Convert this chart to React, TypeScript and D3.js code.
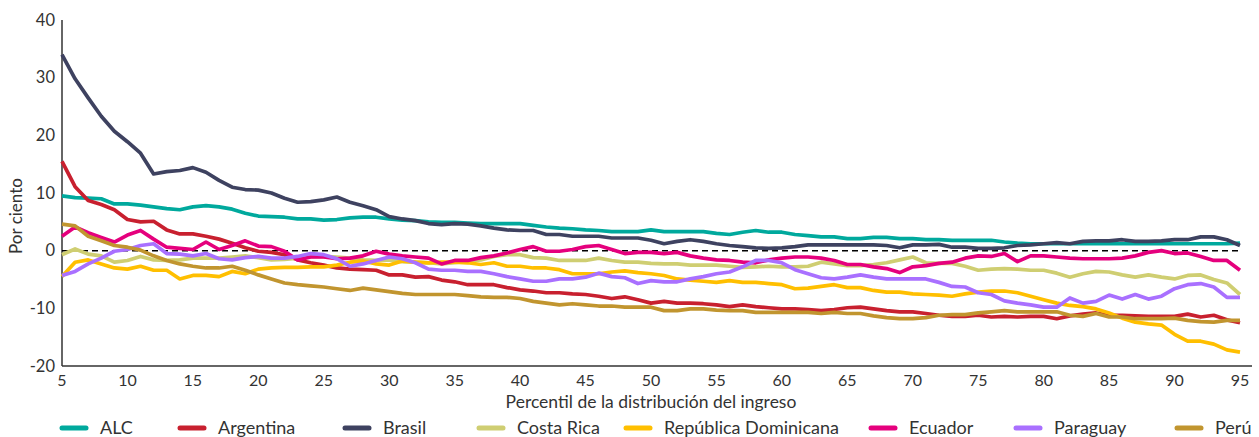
import React from "react";
import * as d3 from "d3";

// percentiles 5..95
const percentiles = d3.range(5, 96);

const alc = [
  9.5, 9.2, 9.1, 9.0, 8.1, 8.1, 7.9, 7.6, 7.3, 7.1,
  7.6, 7.8, 7.6, 7.2, 6.5, 6.0, 5.9, 5.8, 5.5, 5.5,
  5.3, 5.4, 5.7, 5.8, 5.8, 5.5, 5.3, 5.2, 5.0, 4.9,
  4.9, 4.8, 4.7, 4.7, 4.7, 4.7, 4.4, 4.1, 3.9, 3.8,
  3.6, 3.5, 3.3, 3.3, 3.3, 3.6, 3.3, 3.3, 3.3, 3.3,
  3.0, 2.8, 3.2, 3.5, 3.2, 3.2, 2.8, 2.6, 2.4, 2.4,
  2.1, 2.1, 2.3, 2.3, 2.1, 2.1, 1.9, 1.9, 1.8, 1.8,
  1.8, 1.8, 1.5, 1.3, 1.2, 1.2, 1.2, 1.2, 1.2, 1.2,
  1.2, 1.2, 1.2, 1.2, 1.2, 1.2, 1.2, 1.2, 1.2, 1.2,
  1.3,
];

const argentina = [
  15.5, 11.1, 8.7, 8.0, 7.1, 5.4, 5.0, 5.1, 3.6, 2.9,
  2.9, 2.5, 2.0, 1.3, 0.5, -0.1, -0.3, -0.7, -1.6, -2.1,
  -2.5, -3.0, -3.2, -3.3, -3.4, -4.2, -4.2, -4.6, -4.5, -5.1,
  -5.4, -5.9, -5.9, -5.9, -6.4, -6.8, -7.0, -7.3, -7.3, -7.5,
  -7.6, -7.9, -8.3, -8.0, -8.5, -9.1, -8.8, -9.1, -9.1, -9.2,
  -9.4, -9.7, -9.4, -9.7, -9.9, -10.1, -10.1, -10.2, -10.4, -10.2,
  -9.9, -9.8, -10.1, -10.4, -10.6, -10.6, -10.9, -11.2, -11.4, -11.4,
  -11.2, -11.5, -11.4, -11.5, -11.4, -11.4, -11.8, -11.3, -11.0, -10.8,
  -11.2, -11.2, -11.3, -11.4, -11.4, -11.4, -11.0, -11.5, -11.2, -12.0,
  -12.5,
];

const brasil = [
  34.0, 29.8, 26.5, 23.3, 20.7, 18.9, 16.9, 13.3, 13.7, 13.9,
  14.4, 13.6, 12.2, 11.0, 10.6, 10.5, 10.0, 9.1, 8.4, 8.5,
  8.8, 9.3, 8.4, 7.8, 7.1, 5.9, 5.5, 5.2, 4.7, 4.5,
  4.7, 4.6, 4.3, 3.9, 3.6, 3.5, 3.5, 2.8, 2.8, 2.5,
  2.5, 2.5, 2.2, 2.2, 2.2, 1.8, 1.2, 1.6, 1.9, 1.6,
  1.2, 0.9, 0.7, 0.5, 0.4, 0.5, 0.7, 1.0, 1.0, 1.0,
  1.0, 1.0, 1.0, 0.9, 0.5, 1.0, 1.0, 1.1, 0.6, 0.6,
  0.4, 0.4, 0.5, 0.9, 1.0, 1.2, 1.4, 1.2, 1.6, 1.7,
  1.7, 1.9, 1.6, 1.6, 1.7, 1.9, 1.9, 2.4, 2.4, 1.9,
  0.9,
];

const costaRica = [
  -0.7, 0.3, -0.6, -0.9, -2.0, -1.7, -1.0, -1.6, -1.7, -1.6,
  -1.3, -1.3, -1.3, -1.1, -0.9, -1.2, -1.6, -1.5, -1.3, -1.1,
  -1.0, -1.1, -1.3, -1.6, -1.7, -1.6, -1.9, -2.0, -2.1, -2.3,
  -2.1, -1.8, -1.6, -1.0, -0.7, -0.7, -1.2, -1.3, -1.7, -1.7,
  -1.7, -1.3, -1.7, -2.0, -2.0, -2.2, -2.3, -2.3, -2.5, -2.5,
  -2.5, -2.7, -2.9, -2.8, -2.7, -2.8, -2.8, -2.7, -2.0, -2.3,
  -2.6, -2.6, -2.4, -2.1, -1.6, -1.1, -2.1, -2.2, -2.2, -2.7,
  -3.4, -3.2, -3.1, -3.2, -3.4, -3.4, -3.9, -4.6, -4.0, -3.6,
  -3.7, -4.2, -4.6, -4.2, -4.6, -4.9, -4.3, -4.2, -5.0, -5.6,
  -7.6,
];

const repDominicana = [
  -4.5, -2.0, -1.6, -2.3, -3.0, -3.2, -2.7, -3.4, -3.4, -4.9,
  -4.3, -4.3, -4.5, -3.6, -4.0, -3.2, -3.0, -2.9, -2.9, -2.8,
  -2.8, -2.5, -2.0, -1.8, -2.3, -2.5, -1.8, -2.0, -2.1, -2.0,
  -2.0, -2.1, -2.4, -2.1, -2.7, -2.7, -3.0, -3.0, -3.3, -4.0,
  -4.0, -4.0, -3.7, -3.5, -3.8, -4.0, -4.3, -4.9, -5.1, -5.3,
  -5.5, -5.2, -5.5, -5.5, -5.7, -5.9, -6.6, -6.5, -6.2, -5.9,
  -6.4, -6.4, -6.9, -7.2, -7.2, -7.5, -7.6, -7.7, -7.9, -7.5,
  -7.2, -7.0, -7.0, -7.3, -7.9, -8.5, -9.1, -9.5, -9.7, -10.1,
  -10.8, -11.7, -12.4, -12.7, -12.9, -14.5, -15.7, -15.7, -16.2, -17.2,
  -17.6,
];

const ecuador = [
  2.5, 4.1, 3.1, 2.3, 1.5, 2.7, 3.5, 2.0, 0.6, 0.4,
  0.2, 1.5, 0.2, 0.9, 1.7, 0.8, 0.7, -0.1, -1.6, -1.1,
  -1.1, -1.4, -1.3, -0.9, -0.1, -0.6, -0.9, -1.1, -1.3, -2.3,
  -1.7, -1.7, -1.2, -0.9, -0.4, 0.2, 0.7, -0.1, -0.1, 0.2,
  0.7, 0.9, 0.2, -0.5, -0.3, -0.3, -0.5, -0.3, -0.9, -1.3,
  -1.6, -1.7, -2.0, -2.1, -1.6, -1.3, -1.1, -1.1, -1.3, -1.7,
  -2.4, -2.4, -2.8, -3.1, -3.8, -2.8, -2.6, -2.2, -2.0, -1.3,
  -0.9, -1.0, -0.5, -1.9, -0.9, -0.9, -1.1, -1.3, -1.4, -1.4,
  -1.4, -1.3, -0.9, -0.3, 0.0, -0.5, -0.4, -1.0, -1.7, -1.7,
  -3.4,
];

const paraguay = [
  -4.3, -3.6, -2.3, -1.3, -0.1, 0.2, 0.9, 1.2, -0.5, -0.6,
  -0.9, -0.5, -1.4, -1.6, -1.2, -1.0, -1.3, -1.3, -1.0, -0.5,
  -0.7, -1.4, -2.7, -2.3, -1.7, -1.1, -1.4, -2.1, -3.2, -3.4,
  -3.4, -3.6, -3.6, -4.0, -4.5, -4.9, -5.3, -5.3, -4.9, -4.9,
  -4.6, -3.9, -4.5, -4.7, -5.7, -5.2, -5.4, -5.4, -4.9, -4.5,
  -4.0, -3.7, -2.8, -1.7, -1.7, -2.1, -3.3, -4.0, -4.7, -4.9,
  -4.6, -4.2, -4.6, -4.9, -4.9, -4.9, -4.9, -5.5, -6.2, -6.3,
  -7.3, -7.6, -8.7, -9.1, -9.4, -9.8, -9.8, -8.2, -9.1, -8.8,
  -7.7, -8.4, -7.6, -8.4, -7.9, -6.6, -5.9, -5.7, -6.3, -8.1,
  -8.1,
];

const peru = [
  4.6, 4.3, 2.5, 1.7, 0.9, 0.6, 0.1, -0.9, -1.7, -2.3,
  -2.7, -3.0, -3.0, -2.7, -3.4, -4.2, -4.9, -5.6, -5.9, -6.1,
  -6.3, -6.6, -6.9, -6.5, -6.8, -7.1, -7.4, -7.6, -7.6, -7.6,
  -7.6, -7.8, -8.0, -8.1, -8.1, -8.3, -8.8, -9.1, -9.4, -9.2,
  -9.4, -9.6, -9.6, -9.8, -9.8, -9.8, -10.4, -10.4, -10.1, -10.1,
  -10.3, -10.4, -10.4, -10.7, -10.7, -10.7, -10.7, -10.7, -10.9, -10.7,
  -10.9, -10.9, -11.3, -11.6, -11.8, -11.8, -11.6, -11.2, -11.1, -11.1,
  -10.8, -10.6, -10.4, -10.6, -10.6, -10.6, -10.6, -11.2, -11.4, -10.9,
  -11.5, -11.5, -11.8, -11.8, -11.8, -11.7, -12.1, -12.3, -12.4, -12.1,
  -12.1,
];

const seriesNames = ["ALC", "Argentina", "Brasil", "Costa Rica", "República Dominicana", "Ecuador", "Paraguay", "Perú"];
const seriesValues = [alc, argentina, brasil, costaRica, repDominicana, ecuador, paraguay, peru];
const seriesColors = ["#00A99D", "#C8202F", "#3E4260", "#CFCE72", "#FFBF00", "#E5007D", "#A970FF", "#C1952F"];

const xTicks = d3.range(5, 96, 5);
const yTicks = [-20, -10, 0, 10, 20, 30, 40];

// layout
const W = 1259;
const H = 437;
const plot = { left: 62, right: 1240, top: 20, bottom: 366 };
const legendX = [60, 178, 343, 477, 624, 869, 1014, 1175];
const legendY = 428;
const font = "'Source Sans Pro', Lato, 'Noto Sans', sans-serif";
const textColor = "#333333";

export default function App() {
  const x = d3.scaleLinear().domain([5, 95]).range([plot.left, plot.right]);
  const y = d3.scaleLinear().domain([-20, 40]).range([plot.bottom, plot.top]);

  const line = d3
    .line<number>()
    .x((_, i) => x(percentiles[i]))
    .y((d) => y(d));

  return (
    <svg
      width={W}
      height={H}
      style={{ position: "absolute", left: 0, top: 0 }}
      fontFamily={font}
    >
      <rect width={W} height={H} fill="#ffffff" />

      {/* axes */}
      <line x1={plot.left} x2={plot.left} y1={plot.top} y2={plot.bottom} stroke="#333" strokeWidth={1.5} />
      <line x1={plot.left} x2={1252} y1={plot.bottom} y2={plot.bottom} stroke="#333" strokeWidth={1.5} />

      {yTicks.map((t) => (
        <text key={t} x={55} y={y(t)} dy="0.35em" textAnchor="end" fontSize={16.5} fill={textColor}>
          {t}
        </text>
      ))}
      {xTicks.map((t) => (
        <text key={t} x={x(t)} y={386} textAnchor="middle" fontSize={16} fill={textColor}>
          {t}
        </text>
      ))}

      <text
        transform={`translate(22,216) rotate(-90)`}
        textAnchor="middle"
        fontSize={17}
        fill={textColor}
      >
        Por ciento
      </text>
      <text x={(plot.left + plot.right) / 2} y={408} textAnchor="middle" fontSize={17.5} fill={textColor}>
        Percentil de la distribución del ingreso
      </text>

      {/* zero reference */}
      <line
        x1={plot.left}
        x2={plot.right}
        y1={y(0)}
        y2={y(0)}
        stroke="#000"
        strokeWidth={1.5}
        strokeDasharray="6,4"
      />

      {seriesValues.map((vals, i) => (
        <path
          key={seriesNames[i]}
          d={line(vals) || ""}
          fill="none"
          stroke={seriesColors[i]}
          strokeWidth={3.7}
          strokeLinejoin="round"
        />
      ))}

      {/* legend */}
      {seriesNames.map((name, i) => (
        <g key={name} transform={`translate(${legendX[i]},${legendY})`}>
          <line x1={2} x2={26} y1={0} y2={0} stroke={seriesColors[i]} strokeWidth={5} strokeLinecap="round" />
          <text x={40} y={0} dy="0.35em" fontSize={18} fill={textColor}>
            {name}
          </text>
        </g>
      ))}
    </svg>
  );
}
